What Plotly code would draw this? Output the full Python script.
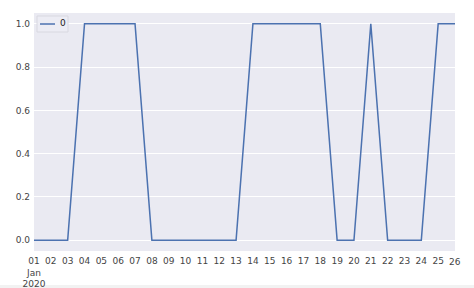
import plotly.graph_objects as go
import pandas as pd

dates = pd.date_range("2020-01-01", "2020-01-26", freq="D")
values = [0, 0, 0, 1, 1, 1, 1, 0, 0, 0, 0, 0, 0, 1, 1, 1, 1, 1, 0, 0, 1, 0, 0, 0, 1, 1]
series_name = "0"
tick_labels = ["01<br>Jan<br>2020"] + [f"{d.day:02d}" for d in dates[1:-1]]
last_label = f"{dates[-1].day:02d}"
y_ticks = [0.0, 0.2, 0.4, 0.6, 0.8, 1.0]

W, H = 474, 288
ML, MR, MT, MB = 34, 19, 13, 37
PW, PH = W - ML - MR, H - MT - MB

def px_x(p):
    return (p - ML) / PW

def px_y(p):
    return (H - MB - p) / PH

LINE_COLOR = "#4C72B0"
TICK_COLOR = "#444444"

fig = go.Figure()
fig.add_trace(go.Scatter(x=dates, y=values, mode="lines", name=series_name,
                         line=dict(color=LINE_COLOR, width=1.5), showlegend=False))

fig.update_layout(
    width=W, height=H,
    margin=dict(l=ML, r=MR, t=MT, b=MB, autoexpand=False),
    paper_bgcolor="white",
    plot_bgcolor="#EAEAF2",
    font=dict(family="DejaVu Sans", size=9, color=TICK_COLOR),
    showlegend=False,
    xaxis=dict(range=[dates[0], dates[-1]], tickvals=list(dates[:-1]), ticktext=tick_labels,
               showgrid=False, zeroline=False, ticks="", tickangle=0, automargin=False,
               ticklabelstandoff=3,
               tickfont=dict(size=9, color=TICK_COLOR)),
    yaxis=dict(range=[-0.05, 1.05], tickvals=y_ticks, ticktext=[f"{v:.1f}" for v in y_ticks],
               showgrid=True, gridcolor="white", gridwidth=1, zeroline=False, ticks="",
               automargin=False, ticklabelstandoff=3,
               tickfont=dict(size=9, color=TICK_COLOR)),
)
# last tick label drawn slightly lower, as in the reference
fig.add_annotation(x=dates[-1], y=px_y(262), xref="x", yref="paper", text=last_label,
                   showarrow=False, font=dict(size=9, color=TICK_COLOR), yanchor="middle")
# custom compact legend
fig.add_shape(type="rect", xref="paper", yref="paper", x0=px_x(37), x1=px_x(68),
              y0=px_y(32), y1=px_y(16), fillcolor="rgba(236,236,244,0.9)",
              line=dict(color="#d8d8e0", width=1))
fig.add_shape(type="line", xref="paper", yref="paper", x0=px_x(40), x1=px_x(55),
              y0=px_y(24), y1=px_y(24), line=dict(color=LINE_COLOR, width=1.5))
fig.add_annotation(x=px_x(63), y=px_y(23.5), xref="paper", yref="paper", text=series_name,
                   showarrow=False, font=dict(size=9, color="#222222"),
                   xanchor="center", yanchor="middle")
# light strip at the bottom of the page
fig.add_shape(type="rect", xref="paper", yref="paper", x0=-0.2, x1=1.2, y0=px_y(285), y1=px_y(295),
              fillcolor="#F2F2F2", line=dict(width=0), layer="below")
fig.write_html("out.html")
